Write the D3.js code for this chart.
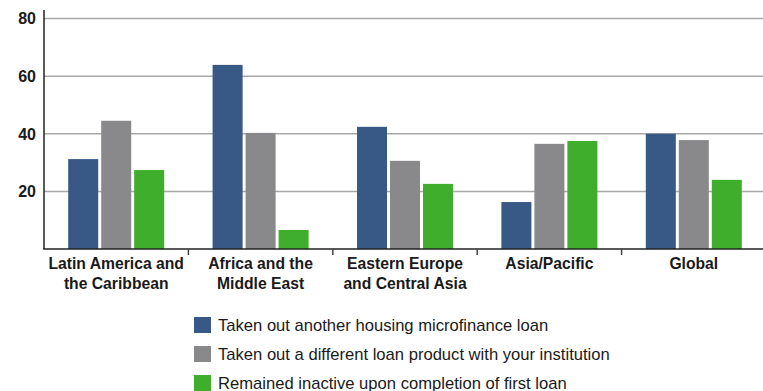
<!DOCTYPE html>
<html>
<head>
<meta charset="utf-8">
<script src="https://cdn.jsdelivr.net/npm/d3@7"></script>
<style>
  body { margin: 0; background: #fff; }
  svg text { font-family: "Liberation Sans", Arial, sans-serif; fill: #1a1a1a; }
  .tick-label { font-size: 16px; font-weight: bold; }
  .cat-label { font-size: 15.7px; font-weight: bold; }
  .legend-label { font-size: 16.6px; }
</style>
</head>
<body>
<div id="chart"></div>
<script>
// ========== Data ==========
const regions = [
  ["Latin America and", "the Caribbean"],
  ["Africa and the", "Middle East"],
  ["Eastern Europe", "and Central Asia"],
  ["Asia/Pacific"],
  ["Global"]
];
const seriesNames = [
  "Taken out another housing microfinance loan",
  "Taken out a different loan product with your institution",
  "Remained inactive upon completion of first loan"
];
const anotherLoan = [31.2, 63.9, 42.4, 16.3, 40];
const differentLoan = [44.5, 40.3, 30.6, 36.5, 37.8];
const inactive = [27.4, 6.6, 22.6, 37.5, 24];
const yTicks = [20, 40, 60, 80];
const colors = ["#385986", "#89898b", "#3fae2d"];

// ========== Render ==========
const width = 763;
const height = 391;
const margin = { top: 10, left: 44, right: -3, bottom: 142 };
const baseline = 249;

const svg = d3.select("#chart").append("svg")
  .attr("width", width)
  .attr("height", height);

const x = d3.scaleBand()
  .domain(d3.range(regions.length))
  .range([margin.left, width - margin.right])
  .paddingInner(0)
  .paddingOuter(0);

const y = d3.scaleLinear()
  .domain([0, 80])
  .range([baseline, 18.5]);

const xSub = d3.scaleBand()
  .domain(d3.range(seriesNames.length))
  .range([0, 96])
  .paddingInner(0.09);

// grid lines
svg.append("g")
  .selectAll("line")
  .data(yTicks)
  .join("line")
  .attr("x1", margin.left)
  .attr("x2", width)
  .attr("y1", (d) => y(d))
  .attr("y2", (d) => y(d))
  .attr("stroke", "#a8a8a8")
  .attr("stroke-width", 1.5);

// tick labels
svg.append("g")
  .selectAll("text")
  .data(yTicks)
  .join("text")
  .attr("class", "tick-label")
  .attr("x", 36)
  .attr("y", (d) => y(d))
  .attr("dy", "0.36em")
  .attr("text-anchor", "end")
  .text((d) => d);

// bars
const allSeries = [anotherLoan, differentLoan, inactive];
const groups = svg.append("g")
  .selectAll("g")
  .data(regions.map((r, i) => i))
  .join("g")
  .attr("transform", (i) => `translate(${x(i) + (x.bandwidth() - 96) / 2},0)`);

groups.selectAll("rect")
  .data((i) => allSeries.map((s, k) => ({ k, v: s[i] })))
  .join("rect")
  .attr("x", (d) => xSub(d.k))
  .attr("width", xSub.bandwidth())
  .attr("y", (d) => y(d.v))
  .attr("height", (d) => baseline - y(d.v))
  .attr("fill", (d) => colors[d.k]);

// axes
svg.append("line")
  .attr("x1", margin.left).attr("x2", margin.left)
  .attr("y1", 10).attr("y2", baseline)
  .attr("stroke", "#222").attr("stroke-width", 1.5);
svg.append("line")
  .attr("x1", margin.left - 0.75).attr("x2", width)
  .attr("y1", baseline).attr("y2", baseline)
  .attr("stroke", "#222").attr("stroke-width", 1.5);

// category separator ticks
svg.append("g")
  .selectAll("line")
  .data(d3.range(1, regions.length))
  .join("line")
  .attr("x1", (i) => x(i))
  .attr("x2", (i) => x(i))
  .attr("y1", baseline)
  .attr("y2", baseline + 6)
  .attr("stroke", "#444")
  .attr("stroke-width", 1.5);

// category labels
const cat = svg.append("g")
  .selectAll("text")
  .data(regions)
  .join("text")
  .attr("class", "cat-label")
  .attr("text-anchor", "middle")
  .attr("x", (d, i) => x(i) + x.bandwidth() / 2)
  .attr("y", 268.5);
cat.selectAll("tspan")
  .data((d) => d)
  .join("tspan")
  .attr("x", function () { return d3.select(this.parentNode).attr("x"); })
  .attr("dy", (d, j) => (j === 0 ? 0 : 20))
  .text((d) => d);

// legend
const legend = svg.append("g")
  .selectAll("g")
  .data(seriesNames)
  .join("g")
  .attr("transform", (d, i) => `translate(194,${317 + i * 29})`);
legend.append("rect")
  .attr("width", 17)
  .attr("height", 16)
  .attr("fill", (d, i) => colors[i]);
legend.append("text")
  .attr("class", "legend-label")
  .attr("x", 24)
  .attr("y", 8)
  .attr("dy", "0.36em")
  .text((d) => d);
</script>
</body>
</html>
